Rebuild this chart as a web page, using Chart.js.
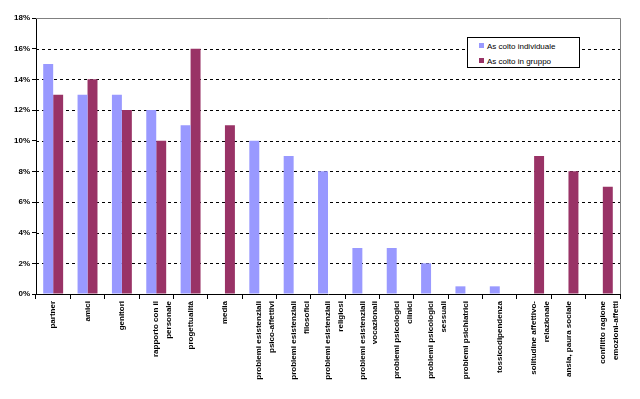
<!DOCTYPE html>
<html>
<head>
<meta charset="utf-8">
<script src="https://cdn.jsdelivr.net/npm/chart.js@4"></script>
<style>
  body { margin: 0; background: #fff; }
  #wrap { position: relative; width: 640px; height: 399px; }
  #legend {
    position: absolute; left: 467px; top: 37px; width: 111px; height: 29px;
    border: 1px solid #000; background: #fff;
    font: 8px Arial, "Liberation Sans", sans-serif; color: #000;
  }
  .item { position: absolute; left: 11px; height: 10px; line-height: 10px; }
  .item span { display: inline-block; width: 5px; height: 5px; margin-right: 3px; vertical-align: 1px; }
</style>
</head>
<body>
<div id="wrap">
  <canvas id="myChart" width="640" height="399"></canvas>
  <div id="legend">
    <div class="item" style="top:4px"><span style="background:#9999ff"></span>As colto individuale</div>
    <div class="item" style="top:19px"><span style="background:#993366"></span>As colto in gruppo</div>
  </div>
</div>
<script>
const categories = [
  "partner", "amici", "genitori",
  ["rapporto con il", "personale"],
  "progettualità", "media",
  ["problemi esistenziali", "psico-affettivi"],
  ["problemi esistenziali", "filosofici"],
  ["problemi esistenziali", "religiosi"],
  ["problemi esistenziali", "vocazionali"],
  ["problemi psicologici", "clinici"],
  ["problemi psicologici", "sessuali"],
  "problemi psichiatrici",
  "tossicodipendenza",
  ["solitudine affettivo-", "relazionale"],
  "ansia, paura sociale",
  ["conflitto ragione", "emozioni-affetti"]
];
const individuale = [15, 13, 13, 12, 11, 0, 10, 9, 8, 3, 3, 2, 0.5, 0.5, 0, 0, 0];
const gruppo = [13, 14, 12, 10, 16, 11, 0, 0, 0, 0, 0, 0, 0, 0, 9, 8, 7];
const yTicks = [0, 2, 4, 6, 8, 10, 12, 14, 16, 18];

// dashed gridlines + gray border on top and right of plot area
const plotBorder = {
  id: 'plotBorder',
  beforeDatasetsDraw(chart) {
    const a = chart.chartArea;
    const y = chart.scales.y;
    const c = chart.ctx;
    c.save();
    c.strokeStyle = '#000';
    c.lineWidth = 1;
    c.setLineDash([3, 3]);
    yTicks.forEach(v => {
      if (v === 0 || v === 18) return;
      const py = Math.round(y.getPixelForValue(v)) + 0.5;
      c.beginPath();
      c.moveTo(a.left, py);
      c.lineTo(a.right, py);
      c.stroke();
    });
    c.restore();
  },
  afterDraw(chart) {
    const a = chart.chartArea;
    const c = chart.ctx;
    c.save();
    c.strokeStyle = '#808080';
    c.lineWidth = 1;
    const r = Math.round(a.right) + 0.5;
    const t = Math.round(a.top) + 0.5;
    c.beginPath();
    c.moveTo(a.left, t);
    c.lineTo(r, t);
    c.lineTo(r, a.bottom);
    c.stroke();
    c.restore();
  }
};

const ctx = document.getElementById('myChart').getContext('2d');
const myChart = new Chart(ctx, {
  type: 'bar',
  data: {
    labels: categories,
    datasets: [{
      label: 'As colto individuale',
      data: individuale,
      backgroundColor: '#9999ff',
      barPercentage: 1,
      categoryPercentage: 0.58
    }, {
      label: 'As colto in gruppo',
      data: gruppo,
      backgroundColor: '#993366',
      barPercentage: 1,
      categoryPercentage: 0.58
    }]
  },
  options: {
    responsive: false,
    animation: false,
    layout: { padding: { top: 18, right: 20, left: 0, bottom: 0 } },
    plugins: { legend: { display: false }, tooltip: { enabled: false } },
    scales: {
      x: {
        grid: { drawOnChartArea: false, tickLength: 5, color: '#000', offset: true },
        border: { color: '#000', width: 1 },
        ticks: {
          minRotation: 90, maxRotation: 90, autoSkip: false, padding: 2,
          color: '#000',
          font: { family: 'Arial, "Liberation Sans"', size: 8, weight: 'bold', lineHeight: 1.6 }
        },
        afterFit(scale) { scale.height = 105; }
      },
      y: {
        min: 0, max: 18,
        afterBuildTicks(scale) { scale.ticks = yTicks.map(v => ({ value: v })); },
        grid: { drawOnChartArea: false, color: '#000', tickLength: 4 },
        border: { color: '#000', width: 1 },
        ticks: {
          color: '#000', padding: 2,
          callback: v => v + '%',
          font: { family: 'Arial, "Liberation Sans"', size: 8, weight: 'bold' }
        },
        afterFit(scale) { scale.width = 36; }
      }
    }
  },
  plugins: [plotBorder]
});
</script>
</body>
</html>
